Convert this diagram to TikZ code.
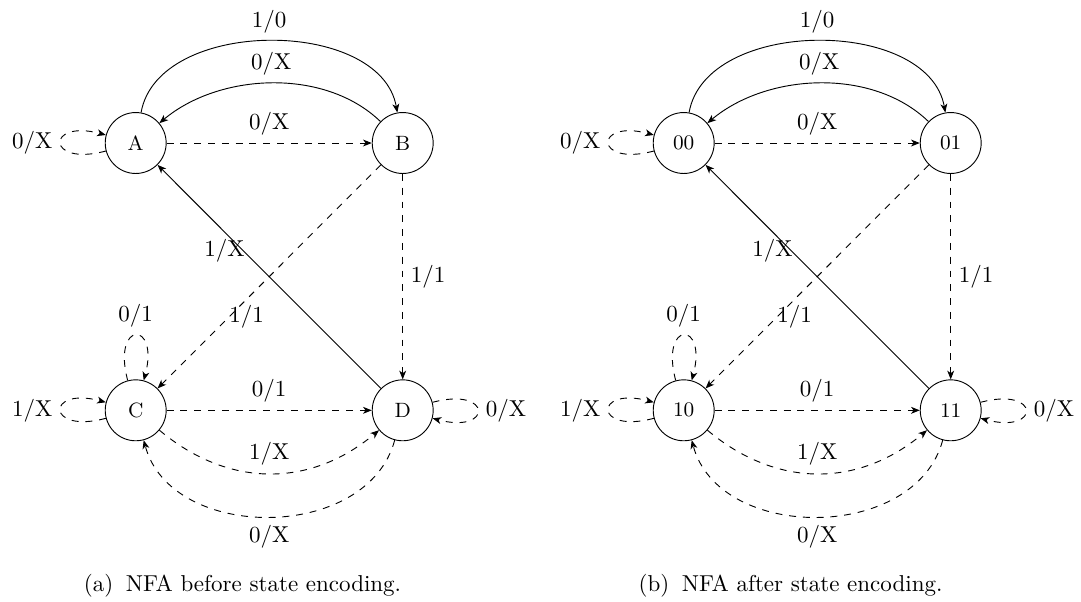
\documentclass[tikz,border=0pt]{standalone}
\usetikzlibrary{arrows.meta}

\tikzset{
  st/.style={circle, draw, minimum size=26.5pt, inner sep=0pt, font=\small},
  lbl/.style={font=\normalsize},
  tr/.style={->, >={Stealth[length=3.8pt,width=3pt,inset=1.1pt]}},
  dtr/.style={tr, dashed},
  every loop/.style={looseness=10},
  captext/.style={font=\normalsize, anchor=base},
}

\begin{document}
\begin{tikzpicture}[x=0.4348pt, y=-0.4348pt]
\useasboundingbox (0,0) rectangle (1081,601);

% ---------- (a) states A, B, C, D ----------
\begin{scope}
  \node[st] (A) at (135.7,143)   {A};
  \node[st] (B) at (402.7,143)   {B};
  \node[st] (C) at (135.7,410.3) {C};
  \node[st] (D) at (402.7,410.3) {D};

  \draw[tr]  (A) to[out=80,in=100,looseness=0.97] node[above] {1/0} (B);
  \draw[tr]  (B) to[out=136,in=40,looseness=0.9] node[above] {0/X} (A);
  \draw[dtr] (A) -- node[above] {0/X} (B);
  \draw[dtr] (A) to[loop left] node[left] {0/X} (A);

  \draw[tr]  (D) -- (A);
  \node[lbl] (aDA) at (224.5,251) {1/X};
  \draw[dtr] (B) -- (C);
  \node[lbl] (aBC) at (246.7,317) {1/1};
  \draw[dtr] (B) -- node[right] {1/1} (D);

  \draw[dtr] (C) to[loop above] node[above] {0/1} (C);
  \draw[dtr] (C) to[loop left] node[left] {1/X} (C);
  \draw[dtr] (C) -- node[above] {0/1} (D);
  \draw[dtr] (D) to[loop right] node[right] {0/X} (D);
  \draw[dtr] (C) to[out=-40,in=-140,looseness=1.05] node[above] {1/X} (D);
  \draw[dtr] (D) to[out=-105,in=-75,looseness=1.08] node[below] {0/X} (C);

  \node[captext] (capa) at (242.5,591) {(a)\hskip 5.5pt NFA before state encoding.};
\end{scope}

% ---------- (b) encoded states 00, 01, 10, 11 ----------
\begin{scope}[shift={(548,0)}]
  \node[st] (s00) at (135.7,143)   {00};
  \node[st] (s01) at (402.7,143)   {01};
  \node[st] (s10) at (135.7,410.3) {10};
  \node[st] (s11) at (402.7,410.3) {11};

  \draw[tr]  (s00) to[out=80,in=100,looseness=0.97] node[above] {1/0} (s01);
  \draw[tr]  (s01) to[out=136,in=40,looseness=0.9] node[above] {0/X} (s00);
  \draw[dtr] (s00) -- node[above] {0/X} (s01);
  \draw[dtr] (s00) to[loop left] node[left] {0/X} (s00);

  \draw[tr]  (s11) -- (s00);
  \node[lbl] (bDA) at (224.5,251) {1/X};
  \draw[dtr] (s01) -- (s10);
  \node[lbl] (bBC) at (246.7,317) {1/1};
  \draw[dtr] (s01) -- node[right] {1/1} (s11);

  \draw[dtr] (s10) to[loop above] node[above] {0/1} (s10);
  \draw[dtr] (s10) to[loop left] node[left] {1/X} (s10);
  \draw[dtr] (s10) -- node[above] {0/1} (s11);
  \draw[dtr] (s11) to[loop right] node[right] {0/X} (s11);
  \draw[dtr] (s10) to[out=-40,in=-140,looseness=1.05] node[above] {1/X} (s11);
  \draw[dtr] (s11) to[out=-105,in=-75,looseness=1.08] node[below] {0/X} (s10);

  \node[captext] (capb) at (242.5,591) {(b)\hskip 5.5pt NFA after state encoding.};
\end{scope}
\end{tikzpicture}
\end{document}
